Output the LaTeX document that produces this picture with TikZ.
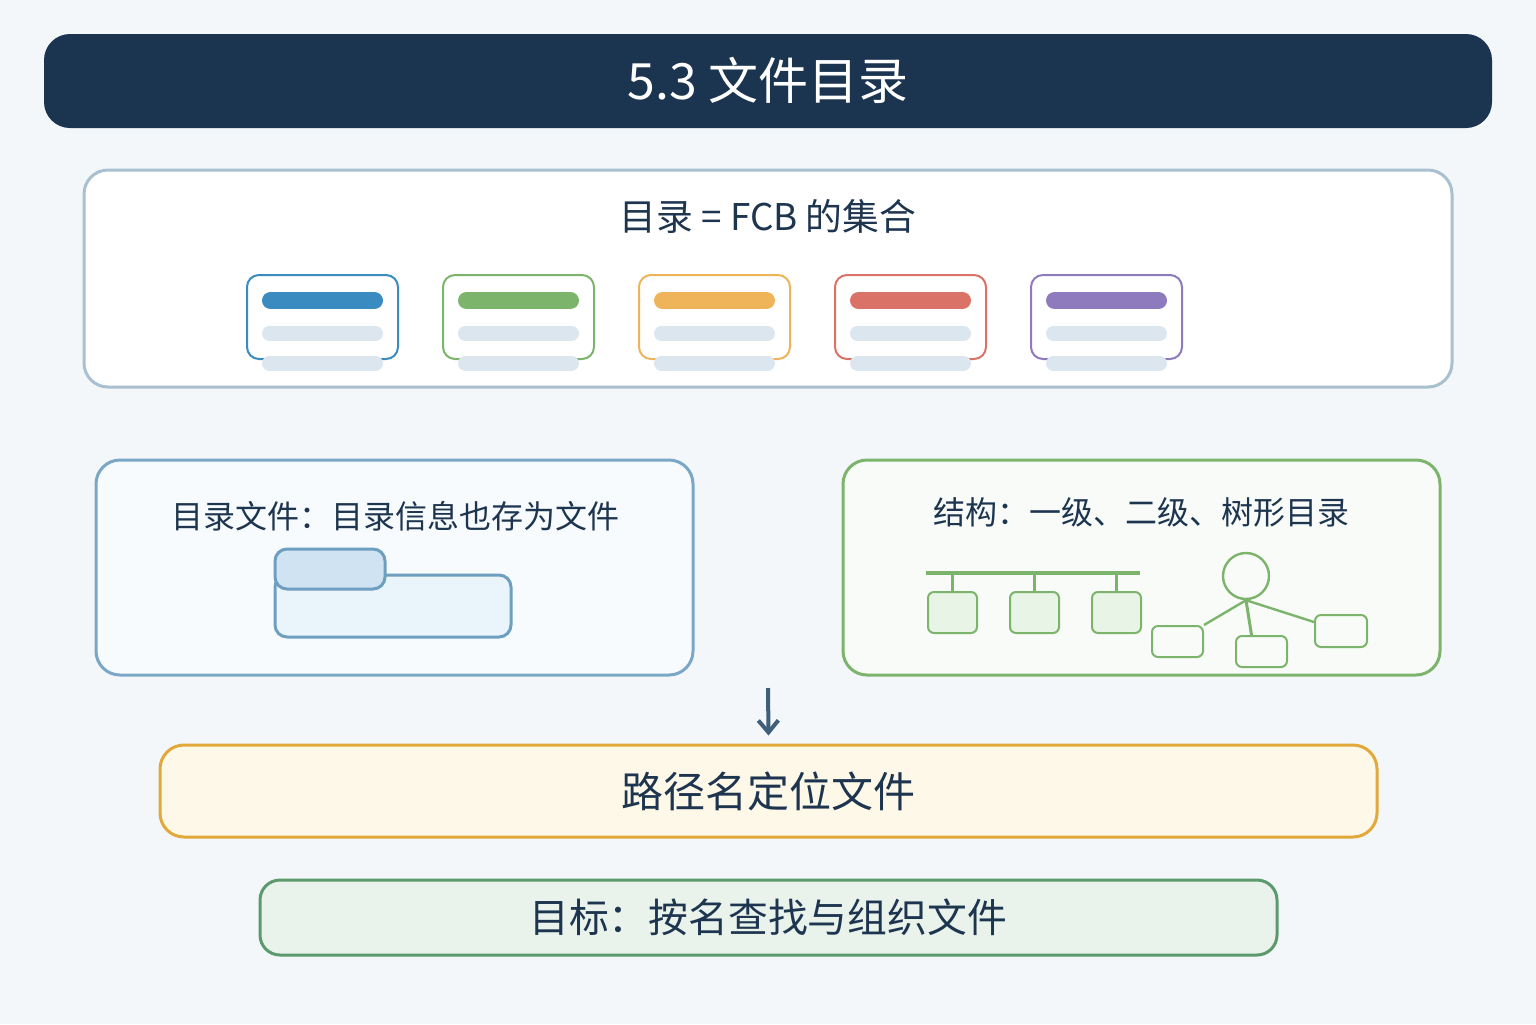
\documentclass[tikz,border=0pt]{standalone}
\usepackage{fontspec}
\setmainfont{Noto Sans CJK SC}
\usetikzlibrary{arrows.meta}
\definecolor{bg}{HTML}{F3F7FA}
\definecolor{navy}{HTML}{1B3450}
\definecolor{txt}{HTML}{1E3550}
\definecolor{cblue}{HTML}{3A8BC0}
\definecolor{cgreen}{HTML}{7DB46C}
\definecolor{corange}{HTML}{EFB45A}
\definecolor{cred}{HTML}{DB7268}
\definecolor{cpurple}{HTML}{8E7BBE}
\definecolor{lightbar}{HTML}{DCE6EE}
\definecolor{panelstroke}{HTML}{A9C0D0}
\definecolor{leftstroke}{HTML}{7BA7C7}
\definecolor{leftfill}{HTML}{F8FBFE}
\definecolor{folderstroke}{HTML}{6E9FC0}
\definecolor{tabfill}{HTML}{D0E3F2}
\definecolor{bodyfill}{HTML}{EAF4FB}
\definecolor{rightfill}{HTML}{F8FBF8}
\definecolor{treebox}{HTML}{E8F4E6}
\definecolor{arrowc}{HTML}{3F5F7A}
\definecolor{ystroke}{HTML}{E2A93A}
\definecolor{yfill}{HTML}{FEF8E8}
\definecolor{gstroke}{HTML}{5C9A6E}
\definecolor{gfill}{HTML}{E9F3EC}
\tikzset{
  panel/.style={rounded corners=12pt, line width=1.5pt},
  card/.style={draw=#1, line width=1pt, fill=white, rounded corners=6pt},
  bar/.style={line width=8.5pt, line cap=round, draw=#1},
  lbl/.style={text=txt, inner sep=0pt},
  tline/.style={draw=cgreen, line width=1.2pt},
  tbox/.style={draw=cgreen, line width=1pt, rounded corners=3pt},
}
\begin{document}
\begin{tikzpicture}[x=0.5pt, y=-0.5pt]
\useasboundingbox (0,0) rectangle (1536,1024);
\fill[bg] (0,0) rectangle (1536,1024);
% title
\node[fill=navy, rounded corners=13pt, minimum width=724pt, minimum height=47pt, inner sep=0pt] (title) at (768,81) {};
\node[text=white, font=\fontsize{25}{30}\selectfont] (titletext) at (768,80) {5.3 文件目录};
% top panel
\draw[panel, draw=panelstroke, fill=white] (84,170) rectangle (1452,387);
\node[lbl, font=\fontsize{18.4}{22}\selectfont] (fcbtitle) at (768,216) {目录 = FCB 的集合};
\foreach \i/\c in {0/cblue,1/cgreen,2/corange,3/cred,4/cpurple}{
  \begin{scope}[xshift=\i*98pt]
    \draw[card=\c] (247,275) rectangle (398,359);
    \draw[bar=\c] (270.5,300.5) -- (374.5,300.5);
    \draw[bar=lightbar, line width=7.5pt] (269.5,333.5) -- (375.5,333.5);
    \draw[bar=lightbar, line width=7.5pt] (269.5,363) -- (375.5,363);
  \end{scope}
}
% left panel
\draw[panel, draw=leftstroke, fill=leftfill] (96,460) rectangle (693,675);
\node[lbl, font=\fontsize{16}{19}\selectfont] (lefttext) at (395,516) {目录文件：目录信息也存为文件};
\draw[draw=folderstroke, fill=bodyfill, line width=1.5pt, rounded corners=6pt] (275,575) rectangle (511,637);
\draw[draw=folderstroke, fill=tabfill, line width=1.5pt, rounded corners=6pt] (275,549) rectangle (385,589);
% right panel
\draw[panel, draw=cgreen, fill=rightfill] (843,460) rectangle (1440,675);
\node[lbl, font=\fontsize{16}{19}\selectfont] (righttext) at (1141,512) {结构：一级、二级、树形目录};
\draw[tline, line width=1.8pt] (926,573) -- (1140,573);
\foreach \x/\n in {927/a,1009/b,1091/c}{
  \node[tbox, fill=treebox, minimum width=24.5pt, minimum height=20.5pt, inner sep=0pt, anchor=north west] (lin\n) at (\x,591) {};
  \draw[tline, line width=1.8pt] (lin\n.north |- 0,573) -- (lin\n.north);
}
\node[draw=cgreen, line width=1.2pt, circle, minimum size=23pt, inner sep=0pt] (root) at (1246,576) {};
\node[tbox, minimum width=25.5pt, minimum height=15.5pt, inner sep=0pt, anchor=north west] (ch1) at (1151,625) {};
\node[tbox, minimum width=25.5pt, minimum height=15.5pt, inner sep=0pt, anchor=north west] (ch2) at (1235,635) {};
\node[tbox, minimum width=26pt, minimum height=16pt, inner sep=0pt, anchor=north west] (ch3) at (1314,614) {};
\draw[tline] (root.south) -- (ch1.north east);
\draw[tline, line width=1.5pt] (root.south) -- ([xshift=-5pt]ch2.north);
\draw[tline] (root.south) -- ([yshift=-4pt]ch3.north west);
% yellow box
\node[draw=ystroke, fill=yfill, line width=1.5pt, rounded corners=12pt, minimum width=608.5pt, minimum height=46pt, inner sep=0pt] (path) at (768.5,791) {};
\node[lbl, font=\fontsize{21}{25}\selectfont] (pathtext) at (768,791) {路径名定位文件};
\coordinate (arrstart) at (768,688);
\draw[draw=arrowc, line width=2pt, -{Straight Barb[length=6pt, width=10pt, line width=2pt]}] (arrstart) -- ([yshift=4pt]path.north);
% green box
\node[draw=gstroke, fill=gfill, line width=1.5pt, rounded corners=10pt, minimum width=508.5pt, minimum height=37.5pt, inner sep=0pt] (goal) at (768.5,917.5) {};
\node[lbl, font=\fontsize{19.9}{24}\selectfont] (goaltext) at (768,917) {目标：按名查找与组织文件};
\end{tikzpicture}
\end{document}
